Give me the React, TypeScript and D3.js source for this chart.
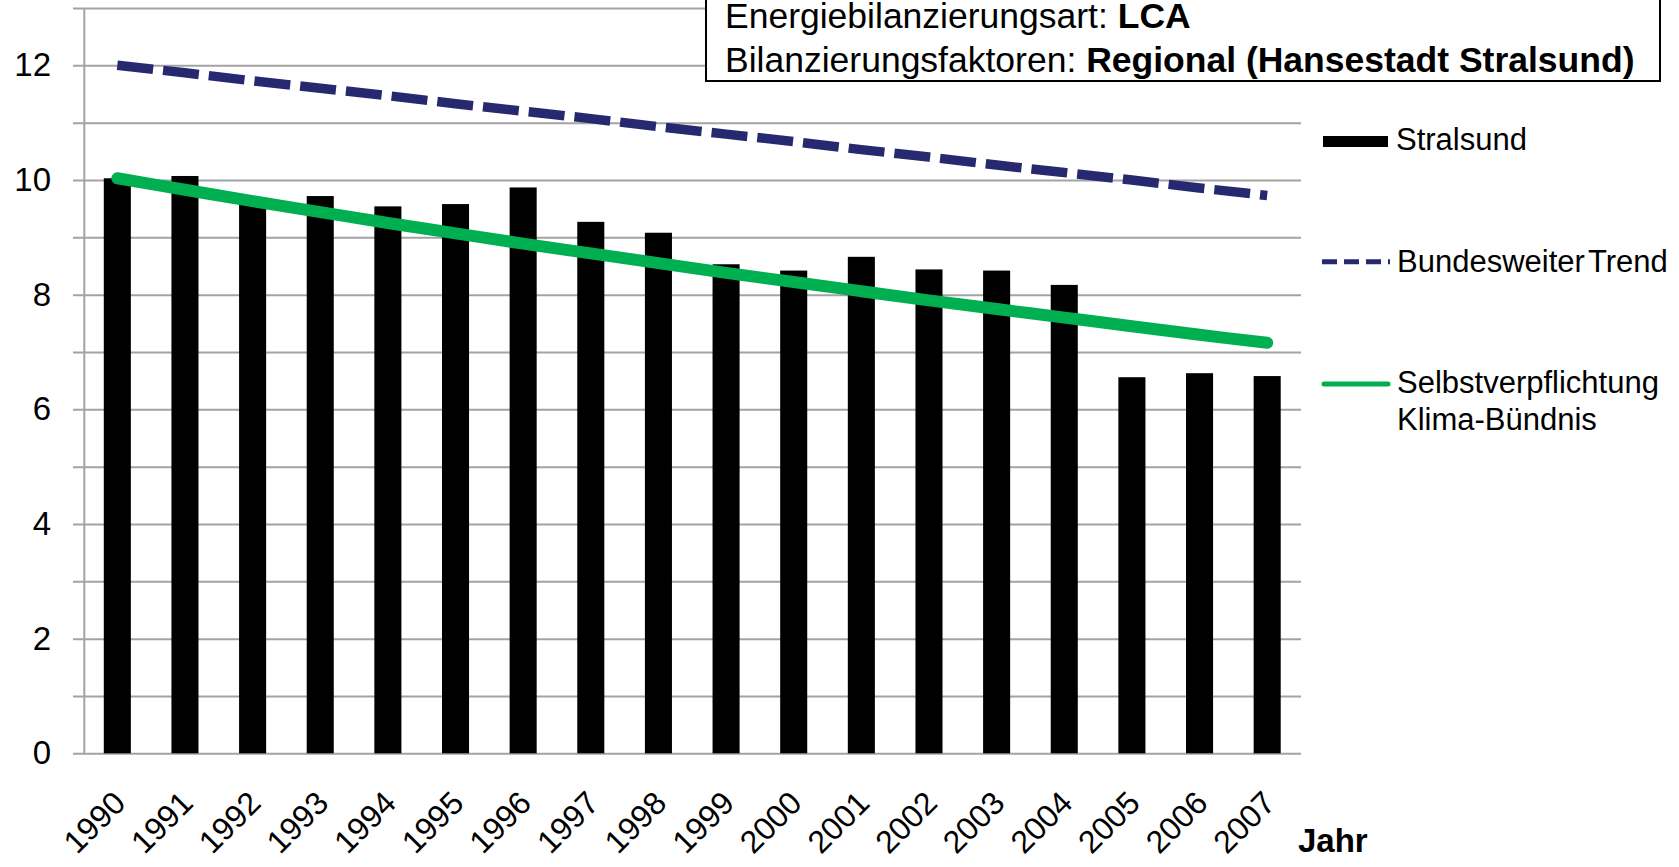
import React, { useEffect, useRef } from 'react';
import * as d3 from 'd3';

// Data
const years = [
  '1990', '1991', '1992', '1993', '1994', '1995', '1996', '1997', '1998',
  '1999', '2000', '2001', '2002', '2003', '2004', '2005', '2006', '2007',
];
const stralsund = [
  10.03, 10.07, 9.65, 9.72, 9.54, 9.58, 9.87, 9.27, 9.08,
  8.53, 8.42, 8.66, 8.44, 8.42, 8.17, 6.56, 6.63, 6.58,
];
const bundesweiterTrend = [
  12.0, 11.87, 11.73, 11.6, 11.47, 11.33, 11.2, 11.07, 10.93,
  10.8, 10.67, 10.53, 10.4, 10.26, 10.13, 10.0, 9.86, 9.73,
];
const klimaBuendnis = [
  10.03, 9.83, 9.63, 9.44, 9.25, 9.07, 8.89, 8.72, 8.55,
  8.38, 8.22, 8.06, 7.9, 7.75, 7.6, 7.45, 7.3, 7.16,
];
const gridValues = d3.range(0, 14);
const yLabels = [0, 2, 4, 6, 8, 10, 12];

const WIDTH = 1679;
const HEIGHT = 867;
const FONT = '"Liberation Sans", Arial, sans-serif';
const NAVY = '#272970';
const GREEN = '#00b050';
const GRID = '#a3a3a3';

const App = () => {
  const svgRef = useRef<SVGSVGElement>(null);

  useEffect(() => {
    if (!svgRef.current) return;
    const svg = d3.select(svgRef.current);
    svg.selectAll('*').remove();

    const plot = { left: 83.5, right: 1301, top: 8, bottom: 753.3 };

    const x = d3.scaleBand()
      .domain(years)
      .range([plot.left, plot.right])
      .paddingInner(0.6)
      .paddingOuter(0.3);

    const y = d3.scaleLinear()
      .domain([0, 13])
      .range([plot.bottom, plot.top]);

    const cx = (d: string) => (x(d) as number) + x.bandwidth() / 2;

    // gridlines + y labels
    svg.append('g')
      .attr('transform', `translate(73,0)`)
      .call(d3.axisLeft(y)
        .tickValues(gridValues)
        .tickSize(-(plot.right - 73))
        .tickPadding(22)
        .tickFormat(d => (yLabels.includes(+d) ? String(d) : '')))
      .call(g => {
        g.select('.domain').remove();
        g.selectAll('line').attr('stroke', GRID).attr('stroke-width', 2);
        g.selectAll('text')
          .attr('fill', '#000')
          .style('font-family', FONT)
          .style('font-size', '33px');
      });

    // bars
    svg.append('g')
      .selectAll('rect')
      .data(stralsund)
      .join('rect')
      .attr('x', (d, i) => x(years[i]) as number)
      .attr('width', x.bandwidth())
      .attr('y', d => y(d))
      .attr('height', d => y(0) - y(d))
      .attr('fill', '#000');

    // vertical axis line
    svg.append('line')
      .attr('x1', plot.left + 0.8).attr('x2', plot.left + 0.8)
      .attr('y1', y(13)).attr('y2', y(0))
      .attr('stroke', GRID)
      .attr('stroke-width', 2);

    // Bundesweiter Trend
    const straight = d3.line<number>()
      .x((d, i) => cx(years[i]))
      .y(d => y(d));

    svg.append('path')
      .attr('d', straight(bundesweiterTrend))
      .attr('fill', 'none')
      .attr('stroke', NAVY)
      .attr('stroke-width', 9.5)
      .attr('stroke-dasharray', '36 10');

    // Selbstverpflichtung Klima-Bündnis
    const smooth = d3.line<number>()
      .x((d, i) => cx(years[i]))
      .y(d => y(d))
      .curve(d3.curveCatmullRom);

    svg.append('path')
      .attr('d', smooth(klimaBuendnis))
      .attr('fill', 'none')
      .attr('stroke', GREEN)
      .attr('stroke-width', 12)
      .attr('stroke-linecap', 'round');

    // x labels
    svg.append('g')
      .selectAll('text')
      .data(years)
      .join('text')
      .attr('transform', d => `translate(${cx(d) + 10},805) rotate(-45)`)
      .attr('text-anchor', 'end')
      .style('font-family', FONT)
      .style('font-size', '32px')
      .text(d => d);

    svg.append('text')
      .attr('x', 1298)
      .attr('y', 852)
      .style('font-family', FONT)
      .style('font-size', '33px')
      .style('font-weight', 'bold')
      .text('Jahr');

    // info box
    svg.append('rect')
      .attr('x', 706).attr('y', -2)
      .attr('width', 954).attr('height', 83)
      .attr('fill', '#fff')
      .attr('stroke', '#000')
      .attr('stroke-width', 2);

    const info = [
      ['Energiebilanzierungsart: ', 'LCA'],
      ['Bilanzierungsfaktoren: ', 'Regional (Hansestadt Stralsund)'],
    ];
    info.forEach(([label, value], i) => {
      const t = svg.append('text')
        .attr('x', 725)
        .attr('y', 28 + i * 44)
        .style('font-family', FONT)
        .style('font-size', '35.5px');
      t.append('tspan').text(label);
      t.append('tspan').style('font-weight', 'bold').text(value);
    });

    // legend
    const legend = svg.append('g').style('font-family', FONT).style('font-size', '31px');

    legend.append('rect')
      .attr('x', 1323).attr('y', 136)
      .attr('width', 65).attr('height', 11)
      .attr('fill', '#000');
    legend.append('text').attr('x', 1396).attr('y', 150).text('Stralsund');

    legend.append('line')
      .attr('x1', 1322).attr('x2', 1390)
      .attr('y1', 261.7).attr('y2', 261.7)
      .attr('stroke', NAVY)
      .attr('stroke-width', 5)
      .attr('stroke-dasharray', '15 7');
    legend.append('text')
      .attr('x', 1397).attr('y', 271.7)
      .style('word-spacing', '-5px')
      .text('Bundesweiter Trend');

    legend.append('line')
      .attr('x1', 1324).attr('x2', 1388)
      .attr('y1', 384).attr('y2', 384)
      .attr('stroke', GREEN)
      .attr('stroke-width', 5)
      .attr('stroke-linecap', 'round');
    legend.append('text').attr('x', 1397).attr('y', 393.3).text('Selbstverpflichtung');
    legend.append('text').attr('x', 1397).attr('y', 430).text('Klima-Bündnis');
  }, []);

  return (
    <svg
      ref={svgRef}
      width={WIDTH}
      height={HEIGHT}
      style={{ position: 'absolute', left: 0, top: 0, background: '#fff' }}
    />
  );
};

export default App;
